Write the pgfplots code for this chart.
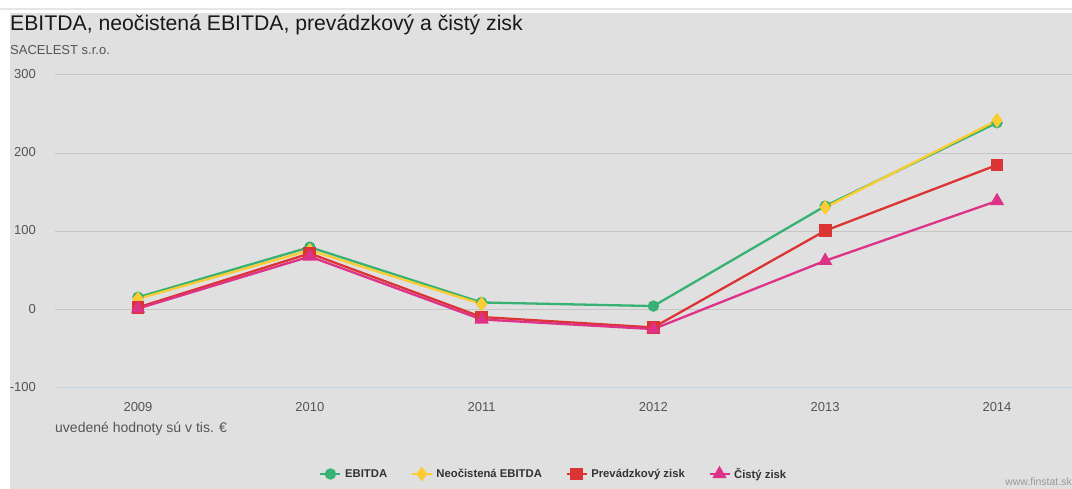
\documentclass[border=0pt]{standalone}
\usepackage{fontspec}
\setmainfont{Liberation Sans}
\usepackage{pgfplots}
\pgfplotsset{compat=1.18}
\definecolor{bgg}{HTML}{E0E0E0}
\definecolor{topline}{HTML}{E6E6E6}
\definecolor{gridc}{HTML}{C6C6C6}
\definecolor{axisc}{HTML}{C4D0E3}
\definecolor{cgreen}{RGB}{56,178,116}
\definecolor{cyellow}{RGB}{253,204,51}
\definecolor{cred}{RGB}{219,52,52}
\definecolor{cpink}{RGB}{220,50,135}
\definecolor{ticktext}{HTML}{555555}
\pgfplotstableread{
x ebitda neo prev cisty
0 16 14 3 1.5
1 80 76 72 68
2 9.3 7.3 -9.3 -12.4
3 4.7 nan -22.6 -24.7
4 132.5 130.7 101 62.6
5 239 242 185 139
}\datatable
\begin{document}
\begin{tikzpicture}
\useasboundingbox (0pt,0pt) rectangle (1072pt,489pt);
\fill[white] (0pt,0pt) rectangle (1072pt,489pt);
\fill[topline] (0pt,479pt) rectangle (1072pt,481pt);
\fill[bgg] (10pt,0pt) rectangle (1072pt,476pt);
\node[anchor=base west, inner sep=0pt, font=\fontsize{21.2}{24}\selectfont, text=black!90] at (10pt,458pt) {EBITDA, neočistená EBITDA, prevádzkový a čistý zisk};
\node[anchor=base west, inner sep=0pt, font=\fontsize{13}{15}\selectfont, text=ticktext] at (10pt,434pt) {SACELEST s.r.o.};
\node[anchor=base west, inner sep=0pt, font=\fontsize{14}{16}\selectfont, text=ticktext] at (55pt,56pt) {uvedené hodnoty sú v tis. €};
\node[anchor=base east, inner sep=0pt, font=\fontsize{10.5}{12}\selectfont, text=black!40] at (1072pt,3.5pt) {www.finstat.sk};
\begin{axis}[
  at={(55pt,101pt)}, anchor=south west,
  width=1017pt, height=313pt, scale only axis,
  xmin=-0.4831, xmax=5.4366, ymin=-100, ymax=300,
  xtick={0,1,2,3,4,5}, xticklabels={2009,2010,2011,2012,2013,2014},
  ytick={-100,0,100,200,300}, yticklabels={-100,0,100,200,300},
  major tick length=0pt,
  axis x line*=bottom,
  x axis line style={draw=axisc, line width=1pt},
  y axis line style={draw=none},
  ymajorgrids, grid style={draw=gridc, line width=1pt},
  xticklabel style={font=\fontsize{13}{15}\selectfont, text=ticktext, anchor=base, inner sep=0pt, yshift=-24pt},
  yticklabel style={font=\fontsize{13}{15}\selectfont, text=ticktext, anchor=base east, inner sep=0pt, xshift=-19pt, yshift=-3.5pt},
  unbounded coords=jump,
  clip=false,
  legend columns=4,
  legend style={at={(0.4912,-0.2748)}, anchor=center, draw=none, fill=none,
    font=\fontsize{11.3}{13}\selectfont\bfseries, text=black!80,
    column sep=0pt,
    /tikz/every even column/.append style={column sep=20pt},
    nodes={inner sep=3.5pt}},
  legend image code/.code={
    \draw[line width=2.3pt] (0pt,0pt) -- (20pt,0pt);
    \draw[mark repeat=2, mark phase=2] plot coordinates {(0pt,0pt) (10pt,0pt) (20pt,0pt)};
  },
]
\addplot[cgreen, line width=2.3pt, mark=*, mark size=4.5pt, mark options={solid}] table[x=x,y=ebitda] {\datatable};
\addlegendentry{EBITDA}
\addplot[cyellow, line width=2.3pt, mark=diamond*, mark size=5.5pt, mark options={solid}] table[x=x,y=neo] {\datatable};
\addlegendentry{Neočistená EBITDA}
\addplot[cred, line width=2.3pt, mark=square*, mark size=5.2pt, mark options={solid}] table[x=x,y=prev] {\datatable};
\addlegendentry{Prevádzkový zisk}
\addplot[cpink, line width=2.3pt, mark=triangle*, mark size=6pt, mark options={solid}] table[x=x,y=cisty] {\datatable};
\addlegendentry{Čistý zisk}
\end{axis}
\end{tikzpicture}
\end{document}
